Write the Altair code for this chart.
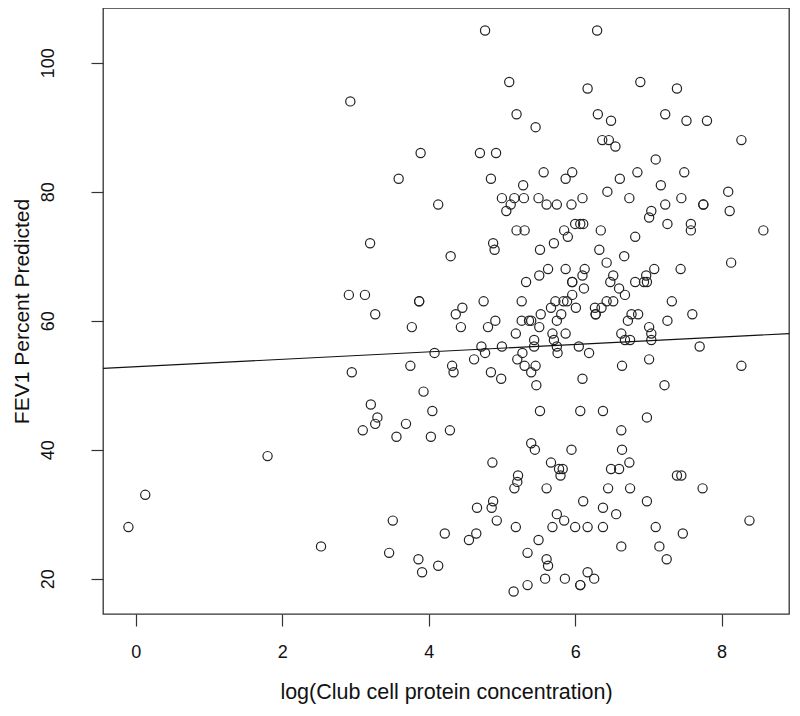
import altair as alt
import pandas as pd

# log(Club cell protein concentration), listed row by row (rows share one FEV1 value)
log_ccp = [
    4.77, 6.30,
    5.10, 6.89,
    6.17, 7.39,
    2.93,
    5.20, 6.31, 7.23,
    6.49, 7.52, 7.80,
    5.46,
    6.37, 6.46, 8.27,
    6.55,
    3.89, 4.70, 4.92,
    7.10,
    5.57, 5.96, 6.85, 7.49,
    3.59, 4.85, 5.87, 6.61,
    5.29, 7.17,
    6.44, 8.09,
    5.00, 5.17, 5.30, 5.50, 6.10, 6.74, 7.45,
    4.13, 5.12, 5.61, 5.75, 5.95, 7.23, 7.75, 7.75,
    5.06, 7.04, 8.11,
    7.01,
    6.00, 6.07, 6.11, 7.26, 7.58,
    5.20, 5.31, 5.85, 6.35, 7.58, 8.57,
    5.90, 6.82,
    3.20, 4.88, 5.71,
    4.90, 5.52, 6.33,
    4.30, 6.67,
    6.43, 8.13,
    5.63, 5.87, 6.13, 7.08, 7.44,
    5.51, 6.10, 6.52, 6.97,
    5.33, 5.96, 5.96, 6.48, 6.82, 6.94, 6.98,
    6.12, 6.60,
    2.91, 3.13, 5.96, 6.68,
    3.87, 3.87, 4.75, 5.27, 5.73, 5.84, 5.89, 6.43, 6.52, 7.32,
    4.46, 5.67, 6.01, 6.27, 6.36,
    3.27, 4.37, 5.53, 5.81, 6.28, 6.28, 6.77, 6.86, 7.60,
    4.91, 5.27, 5.37, 5.40, 5.75, 6.72, 7.26,
    3.77, 4.44, 4.81, 5.51, 7.01,
    5.19, 5.69, 5.87, 6.63, 7.04,
    5.44, 5.71, 6.68, 6.75, 7.04,
    4.72, 5.00, 5.44, 5.75, 6.05, 7.70,
    4.08, 4.77, 5.28, 5.76, 6.19,
    4.62, 5.21, 7.01,
    3.75, 4.32, 5.31, 5.46, 6.64, 8.27,
    2.95, 4.34, 4.85, 5.40,
    4.99, 6.10,
    5.47, 7.22,
    3.93,
    3.21,
    4.05, 5.52, 6.07, 6.38,
    3.30, 6.98,
    3.27, 3.69,
    3.10, 4.29, 6.63,
    3.56, 4.03,
    5.40,
    5.45, 5.95, 6.64,
    1.80,
    4.87, 5.67, 6.74,
    5.78, 5.83, 6.49, 6.60,
    5.22, 5.80, 7.39, 7.45,
    5.21,
    5.17, 5.61, 6.45, 6.75, 7.74,
    0.13,
    4.88, 6.11, 6.98,
    4.66, 4.86, 6.38,
    5.75, 6.56,
    3.51, 4.93, 5.85, 8.38,
    -0.10, 5.19, 5.69, 6.00, 6.17, 6.38, 7.10,
    4.22, 4.65, 7.47,
    4.55, 5.50,
    2.53, 6.63, 7.15,
    3.46, 5.35,
    3.86, 5.61, 7.25,
    4.13, 5.63,
    3.91, 6.17,
    5.59, 5.86, 6.26,
    5.35, 6.07, 6.07,
    5.16,
]

# FEV1 percent predicted, same order
fev1 = [
    105, 105,
    97, 97,
    96, 96,
    94,
    92, 92, 92,
    91, 91, 91,
    90,
    88, 88, 88,
    87,
    86, 86, 86,
    85,
    83, 83, 83, 83,
    82, 82, 82, 82,
    81, 81,
    80, 80,
    79, 79, 79, 79, 79, 79, 79,
    78, 78, 78, 78, 78, 78, 78, 78,
    77, 77, 77,
    76,
    75, 75, 75, 75, 75,
    74, 74, 74, 74, 74, 74,
    73, 73,
    72, 72, 72,
    71, 71, 71,
    70, 70,
    69, 69,
    68, 68, 68, 68, 68,
    67, 67, 67, 67,
    66, 66, 66, 66, 66, 66, 66,
    65, 65,
    64, 64, 64, 64,
    63, 63, 63, 63, 63, 63, 63, 63, 63, 63,
    62, 62, 62, 62, 62,
    61, 61, 61, 61, 61, 61, 61, 61, 61,
    60, 60, 60, 60, 60, 60, 60,
    59, 59, 59, 59, 59,
    58, 58, 58, 58, 58,
    57, 57, 57, 57, 57,
    56, 56, 56, 56, 56, 56,
    55, 55, 55, 55, 55,
    54, 54, 54,
    53, 53, 53, 53, 53, 53,
    52, 52, 52, 52,
    51, 51,
    50, 50,
    49,
    47,
    46, 46, 46, 46,
    45, 45,
    44, 44,
    43, 43, 43,
    42, 42,
    41,
    40, 40, 40,
    39,
    38, 38, 38,
    37, 37, 37, 37,
    36, 36, 36, 36,
    35,
    34, 34, 34, 34, 34,
    33,
    32, 32, 32,
    31, 31, 31,
    30, 30,
    29, 29, 29, 29,
    28, 28, 28, 28, 28, 28, 28,
    27, 27, 27,
    26, 26,
    25, 25, 25,
    24, 24,
    23, 23, 23,
    22, 22,
    21, 21,
    20, 20, 20,
    19, 19, 19,
    18,
]

# fitted line shown in the figure (intercept, slope)
fit_intercept = 52.86
fit_slope = 0.576

x_ticks = [0, 2, 4, 6, 8]
y_ticks = [20, 40, 60, 80, 100]
x_domain = [-0.447, 8.92]
y_domain = [14.52, 108.48]

assert len(log_ccp) == len(fev1)
df = pd.DataFrame({"x": log_ccp, "y": fev1})
fit_df = pd.DataFrame({"x": x_domain, "y": [fit_intercept + fit_slope * v for v in x_domain]})

FONT = "Liberation Sans"

xenc = alt.X(
    "x:Q",
    scale=alt.Scale(domain=x_domain, nice=False, zero=False),
    axis=alt.Axis(
        values=x_ticks, format="d", title="log(Club cell protein concentration)",
        tickSize=12, labelPadding=17, titlePadding=20,
    ),
)
yenc = alt.Y(
    "y:Q",
    scale=alt.Scale(domain=y_domain, nice=False, zero=False),
    axis=alt.Axis(
        values=y_ticks, format="d", title="FEV1 Percent Predicted",
        tickSize=12, labelAngle=-90, labelAlign="center", labelBaseline="bottom",
        labelPadding=34, titlePadding=7, titleFontSize=21,
    ),
)

points = alt.Chart(df).mark_point(
    shape="circle", filled=False, size=85, color="#222222", strokeWidth=1.2, opacity=1
).encode(x=xenc, y=yenc)

line = alt.Chart(fit_df).mark_line(color="#111111", strokeWidth=1.1, clip=True).encode(
    x=alt.X("x:Q"), y=alt.Y("y:Q")
)

chart = (
    alt.layer(points, line)
    .properties(
        width=686, height=606,
        autosize=alt.AutoSizeParams(type="none"),
        padding={"left": 95, "top": 0, "right": 3, "bottom": 98},
        background="white",
    )
    .configure_view(stroke="#333333", strokeWidth=1.3)
    .configure_axis(
        grid=False, domain=False, tickColor="#333333", tickWidth=1.2,
        labelFont=FONT, titleFont=FONT, labelFontSize=18, titleFontSize=21.5,
        labelColor="#111111", titleColor="#111111", titleFontWeight="normal",
    )
)

chart.save("out.html", embed_options={"renderer": "svg", "actions": False})
